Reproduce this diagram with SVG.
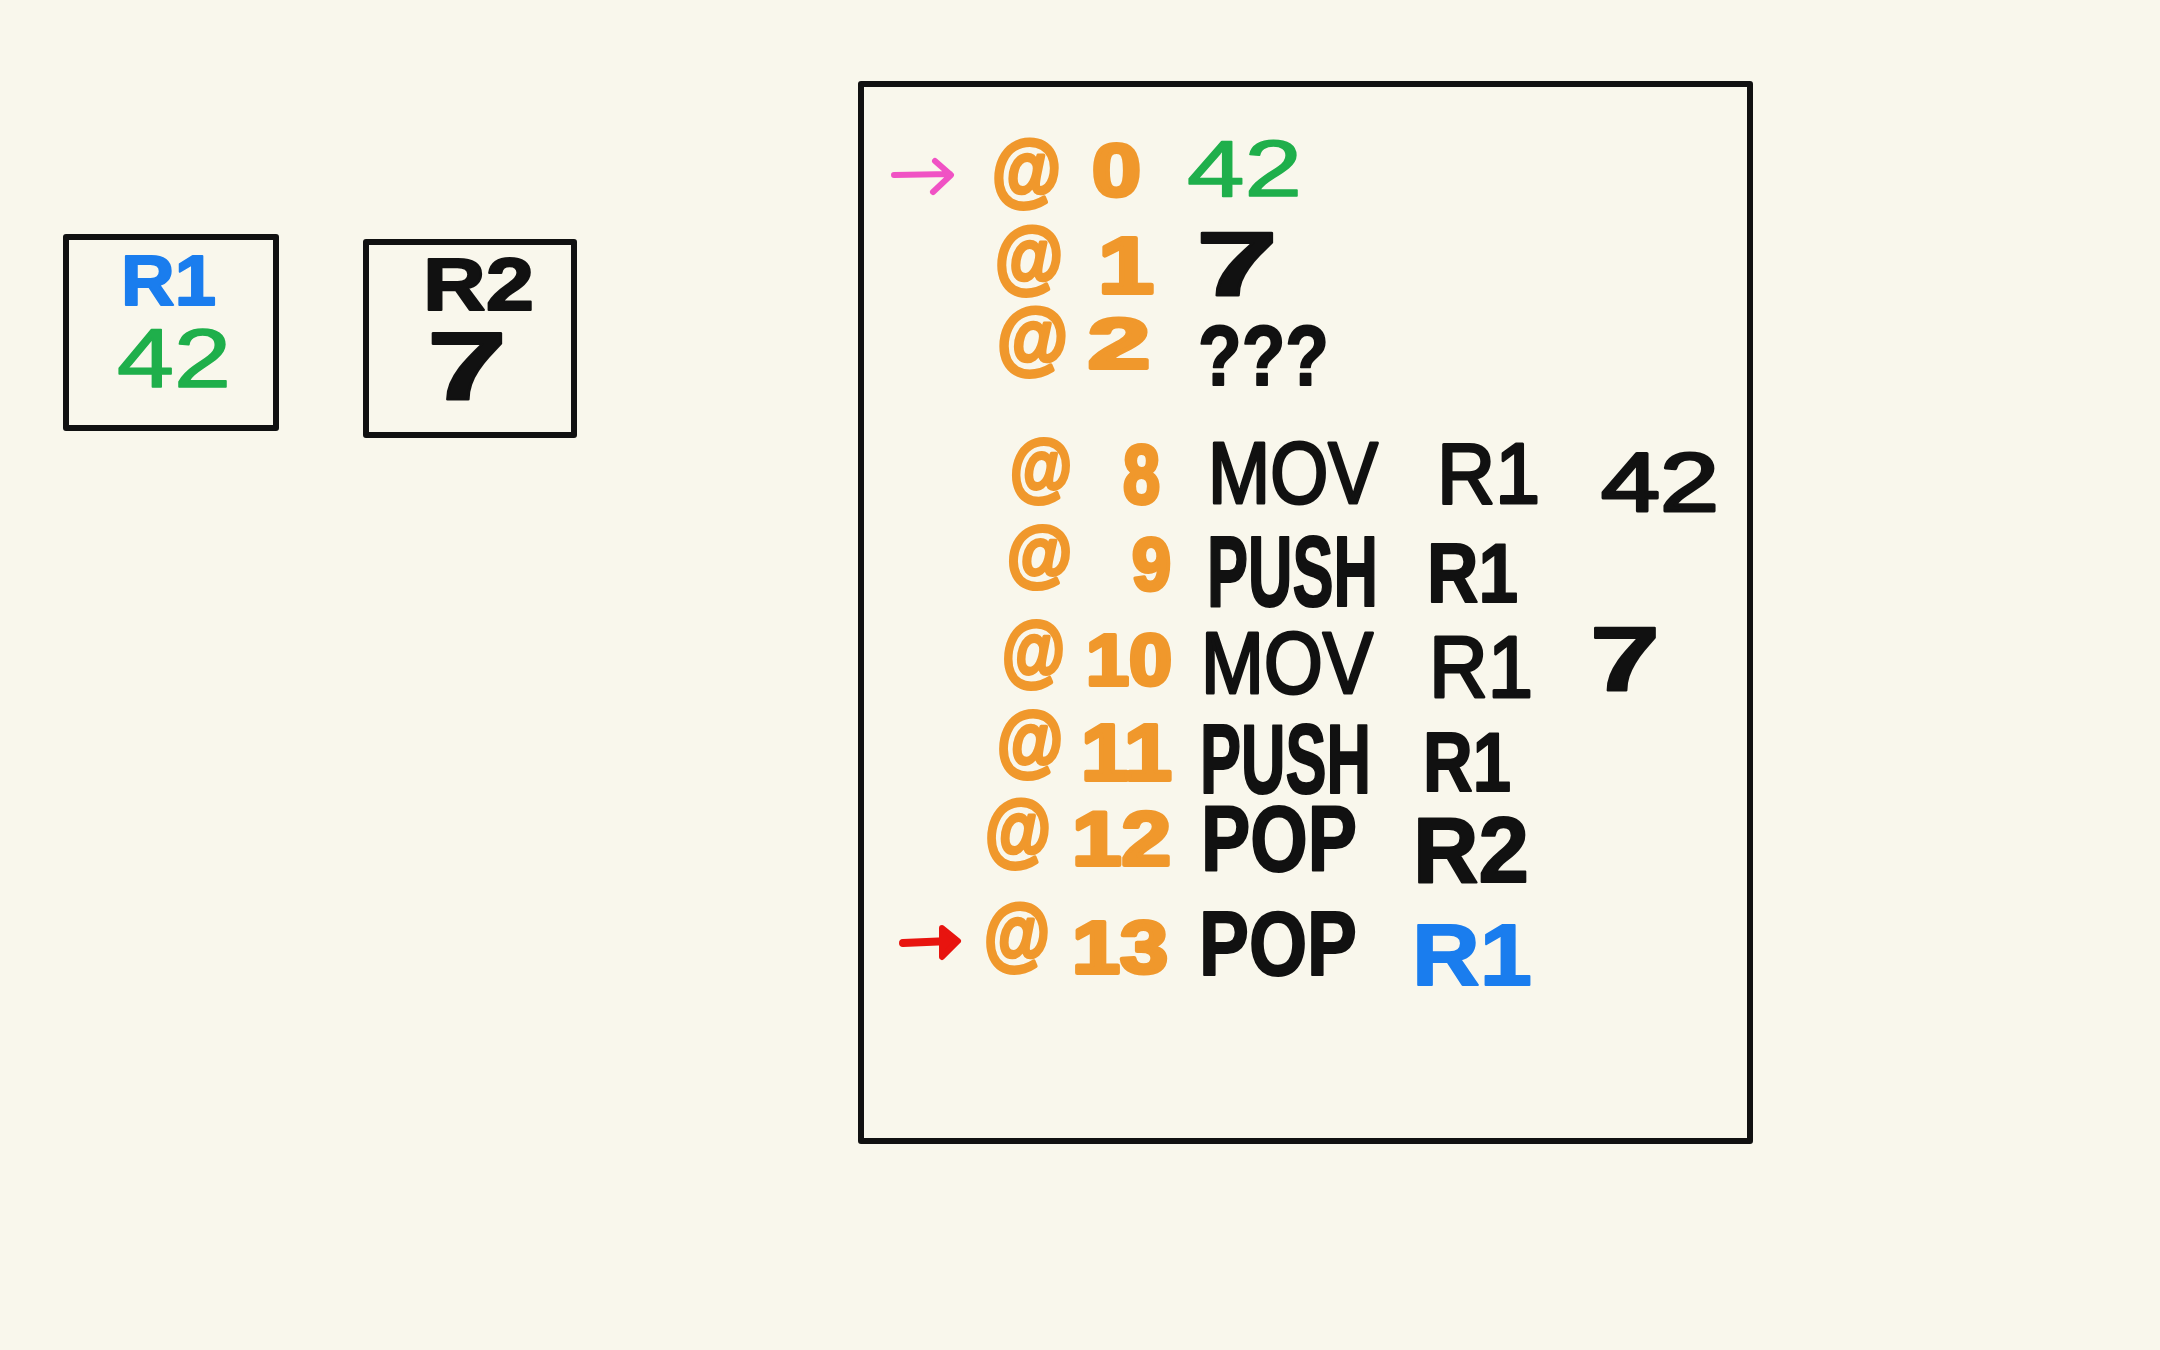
<svg xmlns="http://www.w3.org/2000/svg" width="2160" height="1350" viewBox="0 0 2160 1350">
<style>
.box{fill:none;stroke:#111;stroke-width:6;stroke-linejoin:round}
text{font-family:"Liberation Sans",Arial,sans-serif;stroke-linejoin:round}
.o{fill:#F0982C;stroke:#F0982C;stroke-width:4;font-weight:bold}
.k{fill:#111;stroke:#111;stroke-width:3}
.kb{fill:#111;stroke:#111;stroke-width:2;font-weight:bold}
.g{fill:#1FAF4B;stroke:#1FAF4B;stroke-width:1.5}
.b{fill:#1A7DEE;stroke:#1A7DEE;stroke-width:2;font-weight:bold}
</style>
<rect width="2160" height="1350" fill="#F9F7EC"/>
<g id="reg-r1">
<rect class="box" x="66" y="237" width="210" height="191"/>
<text class="b" x="121" y="305" font-size="70" textLength="95" lengthAdjust="spacingAndGlyphs">R1</text>
<text class="g" x="117" y="387" font-size="84" textLength="114" lengthAdjust="spacingAndGlyphs">42</text>
</g>
<g id="reg-r2">
<rect class="box" x="366" y="242" width="208" height="193"/>
<text class="kb" x="423" y="310" font-size="75" textLength="111" lengthAdjust="spacingAndGlyphs">R2</text>
<text class="kb" x="427" y="400" font-size="96" textLength="80" lengthAdjust="spacingAndGlyphs">7</text>
</g>
<g id="memory">
<rect class="box" x="861" y="84" width="889" height="1057"/>
<g id="row0">
<text class="o" x="992" y="196" font-size="80" textLength="69" lengthAdjust="spacingAndGlyphs">@</text>
<text class="o" x="1092" y="196" font-size="75" textLength="49" lengthAdjust="spacingAndGlyphs">0</text>
<text class="g" x="1187" y="196" font-size="80" textLength="115" lengthAdjust="spacingAndGlyphs">42</text>
</g>
<g id="row1">
<text class="o" x="995" y="283" font-size="80" textLength="68" lengthAdjust="spacingAndGlyphs">@</text>
<text class="o" x="1098" y="293" font-size="80" textLength="56" lengthAdjust="spacingAndGlyphs">1</text>
<text class="kb" x="1196" y="295" font-size="90" textLength="82" lengthAdjust="spacingAndGlyphs">7</text>
</g>
<g id="row2">
<text class="o" x="997" y="364" font-size="80" textLength="71" lengthAdjust="spacingAndGlyphs">@</text>
<text class="o" x="1088" y="368" font-size="70" textLength="62" lengthAdjust="spacingAndGlyphs">2</text>
<text class="kb" x="1198" y="385" font-size="86" textLength="131" lengthAdjust="spacingAndGlyphs">???</text>
</g>
<g id="row8">
<text class="o" x="1010" y="492" font-size="75" textLength="62" lengthAdjust="spacingAndGlyphs">@</text>
<text class="o" x="1123" y="503" font-size="84" textLength="37" lengthAdjust="spacingAndGlyphs">8</text>
<text class="k" x="1208" y="503" font-size="88" textLength="170" lengthAdjust="spacingAndGlyphs">MOV</text>
<text class="k" x="1437" y="503" font-size="86" textLength="103" lengthAdjust="spacingAndGlyphs">R1</text>
<text class="k" x="1601" y="511" font-size="84" textLength="118" lengthAdjust="spacingAndGlyphs">42</text>
</g>
<g id="row9">
<text class="o" x="1007" y="578" font-size="72" textLength="65" lengthAdjust="spacingAndGlyphs">@</text>
<text class="o" x="1132" y="590" font-size="74" textLength="39" lengthAdjust="spacingAndGlyphs">9</text>
<text class="kb" x="1207" y="606" font-size="100" textLength="171" lengthAdjust="spacingAndGlyphs">PUSH</text>
<text class="kb" x="1427" y="602" font-size="84" textLength="91" lengthAdjust="spacingAndGlyphs">R1</text>
</g>
<g id="row10">
<text class="o" x="1002" y="677" font-size="78" textLength="63" lengthAdjust="spacingAndGlyphs">@</text>
<text class="o" x="1086" y="685" font-size="72" textLength="86" lengthAdjust="spacingAndGlyphs">10</text>
<text class="k" x="1201" y="693" font-size="88" textLength="172" lengthAdjust="spacingAndGlyphs">MOV</text>
<text class="k" x="1429" y="697" font-size="88" textLength="104" lengthAdjust="spacingAndGlyphs">R1</text>
<text class="kb" x="1590" y="690" font-size="90" textLength="70" lengthAdjust="spacingAndGlyphs">7</text>
</g>
<g id="row11">
<text class="o" x="997" y="767" font-size="78" textLength="66" lengthAdjust="spacingAndGlyphs">@</text>
<text class="o" x="1081" y="780" font-size="80" textLength="91" lengthAdjust="spacingAndGlyphs">11</text>
<text class="kb" x="1200" y="793" font-size="98" textLength="171" lengthAdjust="spacingAndGlyphs">PUSH</text>
<text class="kb" x="1423" y="791" font-size="84" textLength="88" lengthAdjust="spacingAndGlyphs">R1</text>
</g>
<g id="row12">
<text class="o" x="985" y="856" font-size="80" textLength="66" lengthAdjust="spacingAndGlyphs">@</text>
<text class="o" x="1072" y="865" font-size="76" textLength="99" lengthAdjust="spacingAndGlyphs">12</text>
<text class="kb" x="1201" y="871" font-size="92" textLength="156" lengthAdjust="spacingAndGlyphs">POP</text>
<text class="kb" x="1413" y="882" font-size="92" textLength="116" lengthAdjust="spacingAndGlyphs">R2</text>
</g>
<g id="row13">
<text class="o" x="984" y="960" font-size="80" textLength="66" lengthAdjust="spacingAndGlyphs">@</text>
<text class="o" x="1072" y="973" font-size="74" textLength="96" lengthAdjust="spacingAndGlyphs">13</text>
<text class="kb" x="1199" y="975" font-size="90" textLength="158" lengthAdjust="spacingAndGlyphs">POP</text>
<text class="b" x="1412" y="985" font-size="88" textLength="120" lengthAdjust="spacingAndGlyphs">R1</text>
</g>
</g>
<g id="connectors" fill="none" stroke-linecap="round" stroke-linejoin="round">
<path d="M894 175 L950 174 M935 161 L951 175 L933 192" stroke="#F052C4" stroke-width="6"/>
<path d="M903 943 L950 941" stroke="#E8140F" stroke-width="8"/>
<path d="M942 928 L958 941 L942 957 Z" stroke="#E8140F" stroke-width="6" fill="#E8140F"/>
</g>
</svg>
